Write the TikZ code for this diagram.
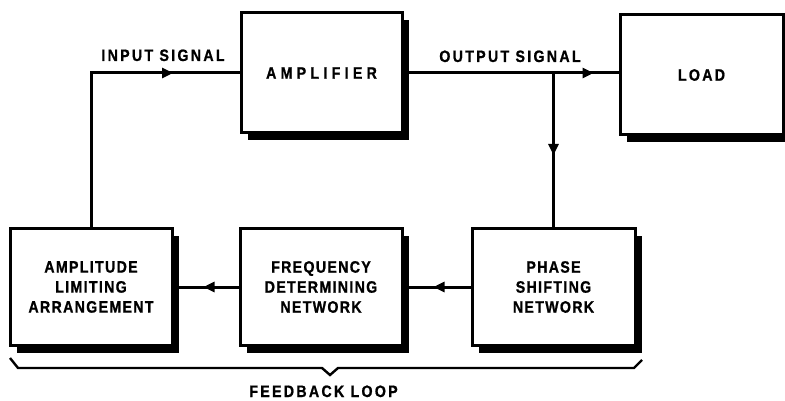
\documentclass[tikz,border=0pt]{standalone}
\usepackage{fontspec}
\newfontfamily\lab{Liberation Sans}[LetterSpace=14, FakeStretch=0.86, BoldFeatures={FakeBold=1}]
\newfontfamily\labn{Liberation Sans}[LetterSpace=8, FakeStretch=0.86, BoldFeatures={FakeBold=1}]
\newfontfamily\labw{Liberation Sans}[LetterSpace=26, FakeStretch=0.86, BoldFeatures={FakeBold=1}]
\usetikzlibrary{arrows.meta,shadows,decorations.markings}
\tikzset{
  blk/.style={draw, line width=3pt, fill=white, align=center, inner sep=0pt,
    font=\labn\bfseries\fontsize{16.5}{20}\selectfont,
    drop shadow={shadow xshift=7pt, shadow yshift=-7pt, fill=black, opacity=1}},
  wire/.style={line width=3pt},
  lbl/.style={font=\lab\bfseries\fontsize{16.5}{20}\selectfont, inner sep=0pt, anchor=base},
  tipat/.style={postaction={decorate}, decoration={markings,
    mark=at position #1 with {\arrow{Triangle[length=11pt,width=10pt]}}}},
  brace/.style={line width=2.4pt, line join=miter}
}
\begin{document}
\begin{tikzpicture}[x=1pt,y=-1pt]
\useasboundingbox[fill=white] (0,0) rectangle (785,401);
% blocks
\node[blk, minimum width=161pt, minimum height=120pt, font=\labw\bfseries\fontsize{16.5}{20}\selectfont] (amp) at (321.5,73) {AMPLIFIER};
\node[blk, minimum width=163pt, minimum height=120pt, font=\lab\bfseries\fontsize{16.5}{20}\selectfont] (load) at (701.5,75) {LOAD};
\node[blk, minimum width=162pt, minimum height=117pt] (alim) at (91,287) {AMPLITUDE\\LIMITING\\ARRANGEMENT};
\node[blk, minimum width=162pt, minimum height=117pt] (freq) at (321,287) {FREQUENCY\\DETERMINING\\NETWORK};
\node[blk, minimum width=163pt, minimum height=117pt] (phase) at (553.5,287) {PHASE\\SHIFTING\\NETWORK};
% connectors
\coordinate (tap) at (amp.east -| phase.north);
\draw[wire, tipat=236pt] (alim.north) |- (amp.west);
\draw[wire, tipat=190pt] (amp.east) -- (amp.east -| load.west);
\draw[wire, tipat=82pt] (tap) -- (phase.north);
\draw[wire, tipat=37pt] (phase.west) -- (freq.east);
\draw[wire, tipat=35pt] (freq.west) -- (alim.east);
% labels
\node[lbl] (inlbl) at (163,61) {INPUT SIGNAL};
\node[lbl] (outlbl) at (510,62) {OUTPUT SIGNAL};
\node[lbl] (fblbl) at (323.5,397) {FEEDBACK LOOP};
% brace
\draw[brace] (10,358) -- (18,368) -- (322,368) -- (330,375) -- (338,368) -- (634,368) -- (642,360);
\end{tikzpicture}
\end{document}
